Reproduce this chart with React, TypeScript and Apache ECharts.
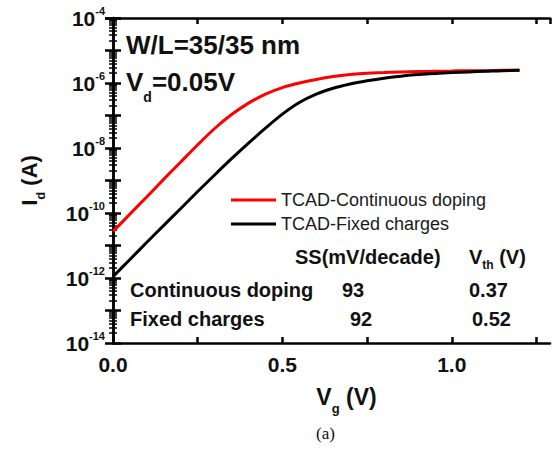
import React, { useEffect, useRef } from "react";
import * as echarts from "echarts";

const gateVoltage = [0, 0.05, 0.1, 0.15, 0.2, 0.25, 0.3, 0.35, 0.4, 0.45, 0.5, 0.55, 0.6, 0.65, 0.7, 0.75, 0.8, 0.85, 0.9, 0.95, 1.0, 1.05, 1.1, 1.15, 1.2];
const idContinuous = [2.69e-11, 9.3e-11, 3.16e-10, 1.1e-9, 3.72e-9, 1.26e-8, 3.98e-8, 1.07e-7, 2.4e-7, 4.57e-7, 7.24e-7, 1.0e-6, 1.29e-6, 1.58e-6, 1.82e-6, 2.0e-6, 2.09e-6, 2.19e-6, 2.24e-6, 2.29e-6, 2.34e-6, 2.4e-6, 2.4e-6, 2.45e-6, 2.45e-6];
const idFixed = [1.1e-12, 3.72e-12, 1.26e-11, 4.17e-11, 1.38e-10, 4.57e-10, 1.48e-9, 4.68e-9, 1.41e-8, 4.07e-8, 1.1e-7, 2.51e-7, 4.57e-7, 6.92e-7, 9.33e-7, 1.17e-6, 1.41e-6, 1.62e-6, 1.82e-6, 1.95e-6, 2.09e-6, 2.19e-6, 2.29e-6, 2.4e-6, 2.45e-6];
const seriesNames = ["TCAD-Continuous doping", "TCAD-Fixed charges"];
const tableRows = ["Continuous doping", "Fixed charges"];
const ssValues = ["93", "92"];
const vthValues = ["0.37", "0.52"];

const FONT = "'Liberation Sans', Arial, sans-serif";

export default function App() {
  const ref = useRef<HTMLDivElement>(null);
  useEffect(() => {
    const chart = echarts.init(ref.current!, undefined, { renderer: "svg" });
    const xMin = 0, xMax = 1.29;
    const yMin = 1e-14, yMax = 1e-4;
    const xLabel = (v: number) => (Math.abs(v * 2 - Math.round(v * 2)) < 1e-6 ? v.toFixed(1) : "");
    const yLabel = (v: number) => {
      const e = Math.round(Math.log10(v));
      if (e % 2 !== 0) return "";
      return `{b|10}{s|${e}}`;
    };
    const lineStyle = { color: "#000", width: 2.5 };
    const baseX = {
      type: "value" as const,
      min: xMin,
      max: xMax,
      interval: 0.25,
      axisLine: { show: true, lineStyle },
      axisTick: { show: true, inside: true, length: 6, lineStyle: { color: "#000", width: 2.5 } },
      axisLabel: { show: false },
      splitLine: { show: false },
    };
    const baseY = {
      type: "log" as const,
      logBase: 10,
      min: yMin,
      max: yMax,
      interval: 1,
      axisLine: { show: true, lineStyle },
      axisTick: { show: true, inside: true, length: 8, lineStyle: { color: "#000", width: 2.5 } },
      minorTick: { show: true, splitNumber: 9, length: 4, lineStyle: { color: "#000", width: 1.5 } },
      axisLabel: { show: false },
      splitLine: { show: false },
      minorSplitLine: { show: false },
    };
    const table: any[] = [];
    tableRows.forEach((name, i) => {
      const y = 291 + i * 29;
      table.push({ type: "text", left: 130, top: y - 11, style: { text: name, font: `bold 20px ${FONT}`, fill: "#111" } });
      table.push({ type: "text", left: 342 + i * 8, top: y - 11, style: { text: ssValues[i], font: `bold 20px ${FONT}`, fill: "#111" } });
      table.push({ type: "text", left: 469 + i * 3, top: y - 11, style: { text: vthValues[i], font: `bold 20px ${FONT}`, fill: "#111" } });
    });
    chart.setOption({
      animation: false,
      backgroundColor: "#fff",
      grid: { left: 113, right: 3, top: 18, bottom: 108, containLabel: false },
      legend: {
        data: seriesNames,
        orient: "vertical",
        left: 226,
        top: 186,
        icon: "rect",
        itemWidth: 45,
        itemHeight: 3,
        itemGap: 6,
        textStyle: { fontFamily: FONT, fontSize: 18, color: "#1a1a1a" },
      },
      xAxis: [
        {
          ...baseX,
          position: "bottom",
          name: "{b|V}{sub|g}{b| (V)}",
          nameLocation: "middle",
          nameGap: 40,
          nameTextStyle: {
            padding: [0, 0, 0, 30],
            rich: {
              b: { fontFamily: FONT, fontWeight: "bold", fontSize: 23, color: "#111", lineHeight: 24 },
              sub: { fontFamily: FONT, fontWeight: "bold", fontSize: 13, color: "#111", lineHeight: 13, padding: [22, 0, 0, 0] },
            },
          },
          axisLabel: {
            show: true,
            formatter: xLabel,
            margin: 11,
            fontFamily: FONT,
            fontWeight: "bold",
            fontSize: 21,
            color: "#111",
            showMaxLabel: false,
          },
        },
        { ...baseX, position: "top" },
      ],
      yAxis: [
        {
          ...baseY,
          position: "left",
          name: "{b|I}{sub|d}{b| (A)}",
          nameLocation: "middle",
          nameRotate: 90,
          nameGap: 72,
          nameTextStyle: {
            rich: {
              b: { fontFamily: FONT, fontWeight: "bold", fontSize: 22, color: "#111", lineHeight: 24 },
              sub: { fontFamily: FONT, fontWeight: "bold", fontSize: 13, color: "#111", lineHeight: 13, padding: [22, 0, 0, 0] },
            },
          },
          axisLabel: {
            show: true,
            formatter: yLabel,
            margin: 8,
            rich: {
              b: { fontFamily: FONT, fontWeight: "bold", fontSize: 21, color: "#111", lineHeight: 22 },
              s: { fontFamily: FONT, fontWeight: "bold", fontSize: 11, color: "#111", lineHeight: 11, padding: [0, 0, 14, 0] },
            },
          },
        },
        { ...baseY, position: "right" },
      ],
      series: [
        {
          name: seriesNames[0],
          type: "line",
          xAxisIndex: 0,
          yAxisIndex: 0,
          data: gateVoltage.map((v, i) => [v, idContinuous[i]]),
          showSymbol: false,
          symbol: "none",
          smooth: 0.3,
          lineStyle: { color: "#ff0000", width: 3 },
          itemStyle: { color: "#ff0000" },
        },
        {
          name: seriesNames[1],
          type: "line",
          xAxisIndex: 0,
          yAxisIndex: 0,
          data: gateVoltage.map((v, i) => [v, idFixed[i]]),
          showSymbol: false,
          symbol: "none",
          smooth: 0.3,
          lineStyle: { color: "#000000", width: 3 },
          itemStyle: { color: "#000000" },
        },
      ],
      graphic: [
        { type: "text", left: 126, top: 32, style: { text: "W/L=35/35 nm", font: `bold 26px ${FONT}`, fill: "#111" } },
        {
          type: "text",
          left: 126,
          top: 60,
          style: {
            text: "{b|V}{sub|d}{b|=0.05V}",
            rich: {
              b: { font: `bold 26px ${FONT}`, fill: "#111", lineHeight: 28 },
              sub: { font: `bold 14px ${FONT}`, fill: "#111", lineHeight: 14, padding: [30, 0, 0, 0] },
            },
          },
        },
        { type: "text", left: 295, top: 247, style: { text: "SS(mV/decade)", font: `bold 20px ${FONT}`, fill: "#111" } },
        {
          type: "text",
          left: 469,
          top: 243,
          style: {
            text: "{b|V}{sub|th}{b| (V)}",
            rich: {
              b: { font: `bold 20px ${FONT}`, fill: "#111", lineHeight: 22 },
              sub: { font: `bold 12px ${FONT}`, fill: "#111", lineHeight: 12, padding: [16, 0, 0, 0] },
            },
          },
        },
        ...table,
        { type: "text", left: 316, top: 425, style: { text: "(a)", font: `17px 'Liberation Serif', 'Times New Roman', serif`, fill: "#111" } },
      ],
    });
    return () => chart.dispose();
  }, []);
  return <div ref={ref} style={{ position: "fixed", left: 0, top: 0, width: 553, height: 451 }} />;
}
